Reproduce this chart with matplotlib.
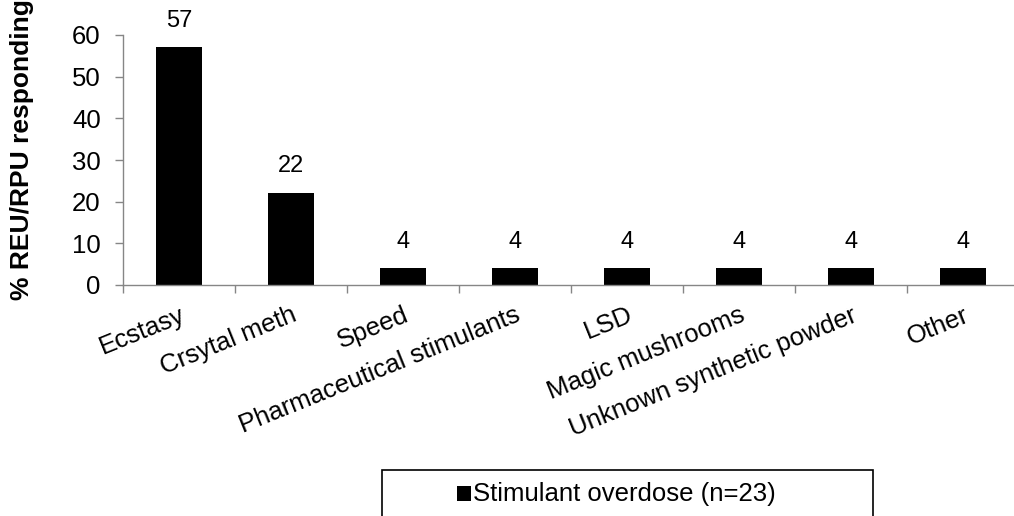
import matplotlib
matplotlib.use("Agg")
import matplotlib.pyplot as plt
import numpy as np
from matplotlib.patches import Rectangle

categories = ["Ecstasy", "Crsytal meth", "Speed", "Pharmaceutical stimulants",
              "LSD", "Magic mushrooms", "Unknown synthetic powder", "Other"]
values = [57, 22, 4, 4, 4, 4, 4, 4]
series_name = "Stimulant overdose (n=23)"
yticks = [0, 10, 20, 30, 40, 50, 60]

plt.rcParams['font.family'] = ['Liberation Sans', 'DejaVu Sans']
W, H = 1014, 516
fig = plt.figure(figsize=(W / 100, H / 100), dpi=100)
left, right, bottom, top = 123, 1019, 285, 35
ax = fig.add_axes([left / W, 1 - bottom / H, (right - left) / W, (bottom - top) / H])

x = np.arange(len(categories))
bars = ax.bar(x, values, width=0.41, color="black", zorder=3)
for xi, v in zip(x, values):
    ax.text(xi, v + 3.8, str(v), ha="center", va="bottom", fontsize=17, color="black")

ax.set_xlim(-0.5, len(categories) - 0.5)
ax.set_ylim(0, 60)
ax.set_yticks(yticks)
ax.set_yticklabels([str(t) for t in yticks], fontsize=18.5)
ax.set_xticks(x)
ax.set_xticklabels(categories, fontsize=18.5, rotation=22, ha="right", va="top",
                   rotation_mode="anchor")
ax.tick_params(axis="x", which="major", length=0, pad=13)
ax.set_xticks(np.arange(len(categories) + 1) - 0.5, minor=True)
ax.tick_params(axis="x", which="minor", length=6, color="#868686", width=1)
ax.tick_params(axis="y", length=6, color="#868686", width=1, pad=10)
for s in ["top", "right"]:
    ax.spines[s].set_visible(False)
for s in ["left", "bottom"]:
    ax.spines[s].set_color("#868686")
    ax.spines[s].set_linewidth(1)
ax.spines["bottom"].set_zorder(4)

fig.text(22 / W, 1 - 150 / H, "% REU/RPU responding", rotation=90, ha="center",
         va="center", fontsize=19, fontweight="bold")

# legend box (cut off at bottom)
fig.patches.append(Rectangle((382 / W, -0.05), (873 - 382) / W, 0.05 + (1 - 470 / H),
                             transform=fig.transFigure, fill=False,
                             edgecolor="black", linewidth=1.2))
fig.patches.append(Rectangle((457 / W, 1 - 501 / H), 14 / W, 15 / H,
                             transform=fig.transFigure, facecolor="black",
                             edgecolor="none"))
fig.text(473 / W, 1 - 501 / H, series_name, ha="left", va="baseline", fontsize=18.5)

fig.savefig("out.png", dpi=100)
